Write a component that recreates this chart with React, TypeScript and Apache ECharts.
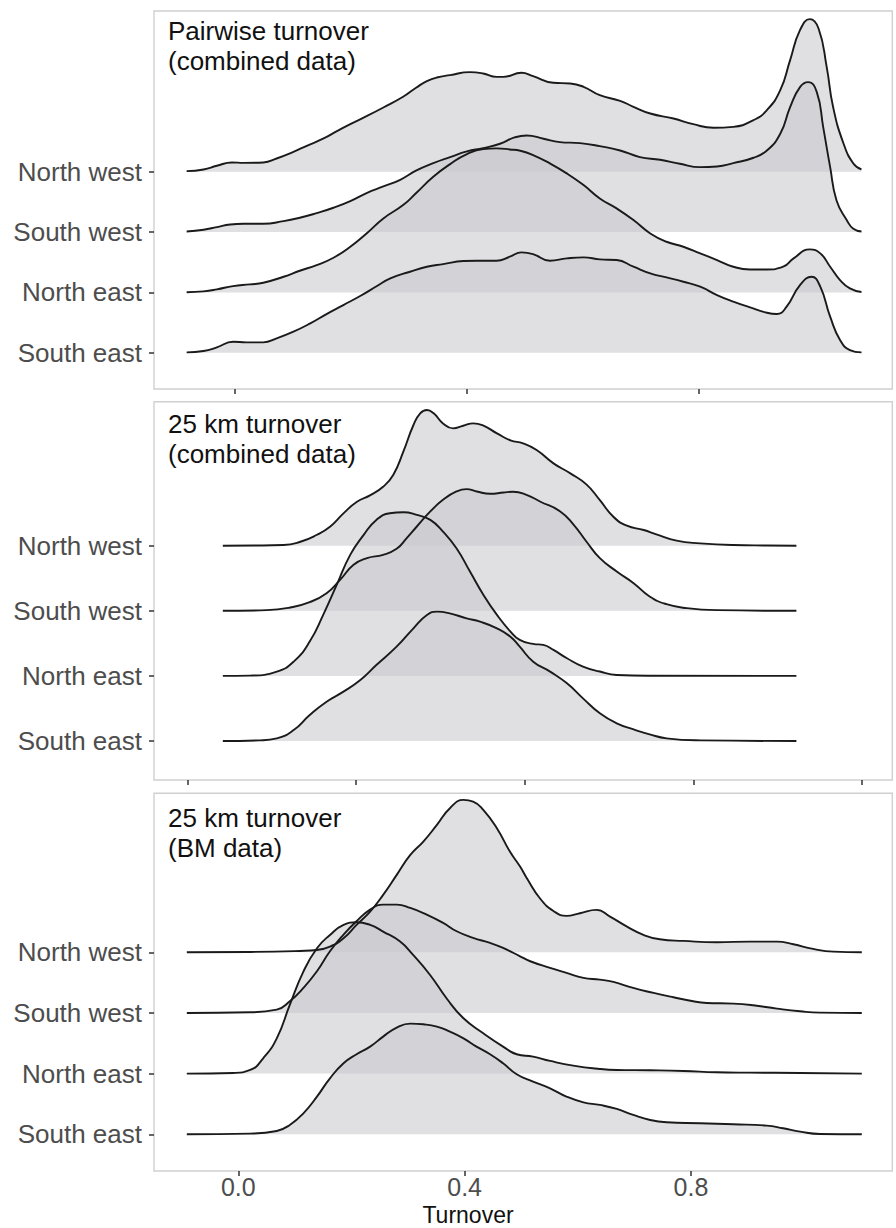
import React, { useEffect, useRef } from "react";
import * as echarts from "echarts";

// Ridge order: index = baseline position (0 = bottom)
const regions = ["South east", "North east", "South west", "North west"];
const panelTitles = [
  "Pairwise turnover\n(combined data)",
  "25 km turnover\n(combined data)",
  "25 km turnover\n(BM data)",
];
const xTitle = "Turnover";
const ticksPairwise = [0, 0.4, 0.8];
const ticks25Combined = [0, 0.2, 0.4, 0.6, 0.8];
const ticks25BM = [0, 0.4, 0.8];
const regionTicks = [0, 1, 2, 3];

// Panel 1: pairwise turnover (combined data) — [turnover, scaled density]
const p1NW = [[-0.083,0.011],[-0.054,0.039],[-0.031,0.100],[-0.005,0.155],[0.015,0.149],[0.049,0.155],[0.072,0.221],[0.101,0.332],[0.124,0.431],[0.153,0.553],[0.176,0.674],[0.199,0.791],[0.227,0.923],[0.256,1.067],[0.290,1.244],[0.313,1.399],[0.331,1.504],[0.348,1.564],[0.371,1.603],[0.405,1.653],[0.428,1.631],[0.451,1.575],[0.463,1.575],[0.494,1.642],[0.514,1.586],[0.549,1.476],[0.578,1.465],[0.601,1.410],[0.629,1.271],[0.664,1.177],[0.687,1.078],[0.716,0.967],[0.756,0.884],[0.790,0.790],[0.825,0.730],[0.859,0.746],[0.894,0.857],[0.917,1.023],[0.940,1.354],[0.957,1.852],[0.974,2.349],[0.991,2.532],[1.006,2.377],[1.020,1.741],[1.031,1.078],[1.049,0.470],[1.066,0.138],[1.080,0.039]];
const p1SW = [[-0.083,0.011],[-0.054,0.039],[-0.031,0.083],[-0.008,0.127],[0.015,0.138],[0.049,0.138],[0.084,0.182],[0.112,0.238],[0.141,0.315],[0.170,0.404],[0.199,0.514],[0.227,0.647],[0.256,0.757],[0.285,0.868],[0.313,1.023],[0.342,1.144],[0.371,1.244],[0.400,1.338],[0.428,1.393],[0.457,1.465],[0.482,1.570],[0.503,1.603],[0.532,1.548],[0.560,1.493],[0.595,1.476],[0.629,1.426],[0.664,1.354],[0.698,1.244],[0.733,1.200],[0.767,1.133],[0.802,1.078],[0.831,1.089],[0.859,1.144],[0.894,1.233],[0.917,1.354],[0.940,1.631],[0.957,2.073],[0.974,2.405],[0.988,2.488],[1.003,2.322],[1.014,1.741],[1.026,1.078],[1.037,0.525],[1.055,0.193],[1.066,0.055],[1.080,0.011]];
const p1NE = [[-0.083,0.003],[-0.054,0.017],[-0.031,0.050],[-0.003,0.105],[0.026,0.133],[0.049,0.160],[0.084,0.260],[0.112,0.359],[0.141,0.453],[0.170,0.575],[0.199,0.757],[0.227,0.978],[0.256,1.227],[0.290,1.448],[0.313,1.653],[0.342,1.918],[0.371,2.128],[0.400,2.294],[0.428,2.377],[0.451,2.388],[0.474,2.371],[0.492,2.349],[0.514,2.278],[0.543,2.139],[0.572,1.974],[0.601,1.780],[0.629,1.559],[0.658,1.393],[0.687,1.200],[0.716,0.978],[0.744,0.840],[0.773,0.757],[0.802,0.647],[0.831,0.536],[0.859,0.426],[0.888,0.381],[0.917,0.381],[0.945,0.426],[0.963,0.564],[0.991,0.713],[1.009,0.647],[1.026,0.426],[1.043,0.205],[1.060,0.066],[1.080,0.006]];
const p1SE = [[-0.083,0.006],[-0.054,0.028],[-0.031,0.088],[-0.003,0.182],[0.020,0.171],[0.049,0.171],[0.072,0.238],[0.101,0.348],[0.130,0.486],[0.158,0.641],[0.187,0.790],[0.216,0.940],[0.245,1.106],[0.268,1.233],[0.302,1.343],[0.331,1.426],[0.359,1.470],[0.394,1.520],[0.417,1.526],[0.451,1.526],[0.474,1.592],[0.494,1.664],[0.514,1.636],[0.543,1.526],[0.572,1.564],[0.601,1.581],[0.629,1.548],[0.658,1.537],[0.687,1.426],[0.716,1.316],[0.744,1.249],[0.773,1.177],[0.802,1.095],[0.831,0.956],[0.859,0.846],[0.888,0.752],[0.917,0.663],[0.934,0.641],[0.951,0.763],[0.974,1.122],[0.994,1.260],[1.009,1.095],[1.026,0.597],[1.043,0.210],[1.060,0.044],[1.080,0.006]];

// Panel 2: 25 km turnover (combined data)
const p2NW = [[0.042,0],[0.080,0.002],[0.114,0.010],[0.134,0.061],[0.153,0.164],[0.169,0.292],[0.185,0.497],[0.201,0.676],[0.217,0.778],[0.232,0.906],[0.244,1.086],[0.256,1.444],[0.268,1.854],[0.276,2.033],[0.284,2.084],[0.292,2.033],[0.303,1.879],[0.315,1.802],[0.327,1.843],[0.339,1.879],[0.351,1.843],[0.367,1.726],[0.383,1.618],[0.398,1.572],[0.414,1.470],[0.434,1.265],[0.454,1.111],[0.473,0.942],[0.489,0.701],[0.505,0.445],[0.521,0.307],[0.541,0.241],[0.556,0.174],[0.580,0.077],[0.608,0.036],[0.647,0.010],[0.687,0.003],[0.722,0]];
const p2SW = [[0.042,0],[0.094,0.010],[0.122,0.051],[0.145,0.133],[0.165,0.271],[0.181,0.476],[0.197,0.707],[0.213,0.809],[0.232,0.860],[0.248,0.952],[0.260,1.116],[0.272,1.295],[0.288,1.526],[0.303,1.705],[0.319,1.833],[0.331,1.869],[0.343,1.833],[0.359,1.797],[0.375,1.818],[0.386,1.828],[0.402,1.782],[0.418,1.679],[0.442,1.526],[0.458,1.321],[0.473,1.065],[0.489,0.809],[0.509,0.604],[0.529,0.425],[0.548,0.220],[0.568,0.102],[0.592,0.041],[0.628,0.010],[0.722,0]];
const p2NE = [[0.042,0],[0.074,0.005],[0.106,0.067],[0.126,0.220],[0.145,0.527],[0.161,0.937],[0.177,1.398],[0.193,1.859],[0.209,2.166],[0.224,2.396],[0.240,2.499],[0.256,2.514],[0.272,2.473],[0.288,2.396],[0.303,2.217],[0.319,1.961],[0.335,1.603],[0.351,1.244],[0.367,0.937],[0.383,0.681],[0.394,0.553],[0.410,0.492],[0.422,0.476],[0.434,0.399],[0.450,0.271],[0.469,0.143],[0.489,0.067],[0.509,0.015],[0.548,0.002],[0.722,0]];
const p2SE = [[0.042,0],[0.086,0.010],[0.106,0.041],[0.126,0.169],[0.145,0.399],[0.165,0.604],[0.185,0.758],[0.205,0.937],[0.224,1.167],[0.248,1.449],[0.268,1.731],[0.284,1.935],[0.296,1.987],[0.311,1.961],[0.331,1.884],[0.347,1.833],[0.367,1.731],[0.383,1.603],[0.394,1.449],[0.410,1.219],[0.430,1.065],[0.450,0.886],[0.469,0.655],[0.489,0.425],[0.509,0.271],[0.529,0.179],[0.548,0.102],[0.568,0.041],[0.608,0.010],[0.722,0]];

// Panel 3: 25 km turnover (BM data)
const p3NW = [[-0.091,0],[0.021,0.005],[0.109,0.022],[0.139,0.038],[0.162,0.093],[0.186,0.231],[0.209,0.451],[0.233,0.670],[0.256,0.945],[0.280,1.275],[0.304,1.604],[0.327,1.824],[0.351,2.099],[0.374,2.374],[0.398,2.511],[0.415,2.484],[0.433,2.346],[0.457,2.044],[0.480,1.659],[0.498,1.412],[0.510,1.220],[0.533,0.890],[0.557,0.681],[0.580,0.599],[0.604,0.643],[0.633,0.698],[0.657,0.588],[0.687,0.423],[0.716,0.286],[0.745,0.214],[0.787,0.187],[0.846,0.165],[0.904,0.176],[0.952,0.176],[0.981,0.132],[1.016,0.055],[1.052,0.011],[1.102,0]];
const p3SW = [[-0.091,0],[0.021,0.011],[0.068,0.055],[0.091,0.192],[0.115,0.412],[0.139,0.687],[0.162,1.016],[0.186,1.291],[0.209,1.511],[0.233,1.703],[0.256,1.786],[0.280,1.786],[0.304,1.731],[0.333,1.621],[0.362,1.484],[0.386,1.346],[0.415,1.236],[0.445,1.154],[0.468,1.071],[0.498,0.934],[0.516,0.852],[0.551,0.742],[0.580,0.659],[0.610,0.577],[0.639,0.549],[0.663,0.511],[0.698,0.412],[0.734,0.330],[0.769,0.258],[0.804,0.192],[0.828,0.165],[0.875,0.154],[0.910,0.126],[0.952,0.071],[0.993,0.027],[1.028,0.005],[1.102,0]];
const p3NE = [[-0.091,0],[-0.009,0.011],[0.021,0.060],[0.044,0.253],[0.068,0.582],[0.091,1.132],[0.115,1.681],[0.139,2.066],[0.162,2.286],[0.186,2.451],[0.209,2.495],[0.233,2.451],[0.256,2.341],[0.286,2.176],[0.309,1.956],[0.339,1.626],[0.368,1.242],[0.398,0.912],[0.433,0.665],[0.468,0.445],[0.492,0.319],[0.521,0.280],[0.551,0.209],[0.592,0.132],[0.639,0.077],[0.669,0.060],[0.728,0.055],[0.787,0.044],[0.846,0.022],[0.904,0.016],[0.993,0.011],[1.102,0]];
const p3SE = [[-0.091,0],[0.021,0.011],[0.068,0.055],[0.091,0.154],[0.115,0.346],[0.139,0.621],[0.162,0.923],[0.186,1.170],[0.209,1.319],[0.233,1.445],[0.256,1.610],[0.280,1.758],[0.304,1.824],[0.327,1.813],[0.351,1.775],[0.374,1.692],[0.398,1.582],[0.421,1.445],[0.445,1.319],[0.468,1.170],[0.492,0.989],[0.521,0.868],[0.551,0.758],[0.580,0.621],[0.610,0.527],[0.639,0.484],[0.669,0.418],[0.698,0.319],[0.728,0.236],[0.757,0.198],[0.816,0.181],[0.875,0.165],[0.934,0.143],[0.963,0.099],[0.993,0.044],[1.028,0.005],[1.102,0]];

const FONT = '"Liberation Sans", Arial, Helvetica, sans-serif';

export default function App() {
  const ref = useRef<HTMLDivElement>(null);

  useEffect(() => {
    if (!ref.current) return;
    const chart = echarts.init(ref.current, null, { renderer: "svg" });

    const panels = [
      { curves: [p1SE, p1NE, p1SW, p1NW], ticks: ticksPairwise, xmin: -0.1393, xmax: 1.1331, ymin: -0.602, ymax: 5.667, top: 11, height: 378, labels: false, titleY: 15.5 },
      { curves: [p2SE, p2NE, p2SW, p2NW], ticks: ticks25Combined, xmin: -0.0396, xmax: 0.8357, ymin: -0.599, ymax: 5.212, top: 401.7, height: 378.3, labels: false, titleY: 409 },
      { curves: [p3SE, p3NE, p3SW, p3NW], ticks: ticks25BM, xmin: -0.149, xmax: 1.1559, ymin: -0.605, ymax: 5.62, top: 793.3, height: 377.7, labels: true, titleY: 803 },
    ];

    const grid: any[] = [];
    const xAxis: any[] = [];
    const yAxis: any[] = [];
    const series: any[] = [];
    const graphic: any[] = [];

    panels.forEach((p, pi) => {
      grid.push({
        left: 154,
        width: 738.3,
        top: p.top,
        height: p.height,
        show: true,
        borderColor: "#d0d0d0",
        borderWidth: 1.4,
        backgroundColor: "transparent",
      });
      xAxis.push({
        type: "value",
        gridIndex: pi,
        position: "bottom",
        min: p.xmin,
        max: p.xmax,
        axisLine: { show: false, onZero: false },
        splitLine: { show: false },
        axisTick: {
          show: true,
          customValues: p.ticks,
          length: 5,
          lineStyle: { color: "#333333", width: 1.5 },
        },
        axisLabel: {
          show: p.labels,
          customValues: p.ticks,
          formatter: (v: number) => v.toFixed(1),
          color: "#4d4d4d",
          fontSize: 25,
          lineHeight: 22,
          fontFamily: FONT,
          margin: 5,
        },
      });
      yAxis.push({
        type: "value",
        gridIndex: pi,
        position: "left",
        min: p.ymin,
        max: p.ymax,
        axisLine: { show: false, onZero: false },
        splitLine: { show: false },
        axisTick: {
          show: true,
          customValues: regionTicks,
          length: 5,
          lineStyle: { color: "#333333", width: 1.5 },
        },
        axisLabel: {
          show: true,
          customValues: regionTicks,
          formatter: (v: number) => regions[Math.round(v)] ?? "",
          color: "#4d4d4d",
          fontSize: 26,
          lineHeight: 26,
          fontFamily: FONT,
          margin: 12,
        },
      });
      // draw top ridge first so lower ridges overlay it
      for (let k = 3; k >= 0; k--) {
        const curve = p.curves[k];
        series.push({
          type: "line",
          name: regions[k],
          xAxisIndex: pi,
          yAxisIndex: pi,
          data: curve.map(([x, h]) => [x, k + h]),
          showSymbol: false,
          symbol: "none",
          smooth: 0.5,
          silent: true,
          lineStyle: { color: "#1a1a1a", width: 1.9, join: "round" },
          areaStyle: { origin: k, color: "rgba(200,201,205,0.57)", opacity: 1 },
        });
      }
      graphic.push({
        type: "text",
        left: 168,
        top: p.titleY,
        style: {
          text: panelTitles[pi],
          fontSize: 26,
          lineHeight: 30,
          fontFamily: FONT,
          fill: "#111111",
        },
      });
    });

    graphic.push({
      type: "text",
      x: 468,
      y: 1215,
      style: {
        text: xTitle,
        fontSize: 23,
        lineHeight: 23,
        fontFamily: FONT,
        fill: "#111111",
        textAlign: "center",
        textVerticalAlign: "middle",
      },
    });

    chart.setOption({
      animation: false,
      backgroundColor: "#ffffff",
      textStyle: { fontFamily: FONT },
      grid,
      xAxis,
      yAxis,
      series,
      graphic,
    });

    return () => chart.dispose();
  }, []);

  return (
    <div
      ref={ref}
      style={{ position: "fixed", left: 0, top: 0, width: 896, height: 1228 }}
    />
  );
}
